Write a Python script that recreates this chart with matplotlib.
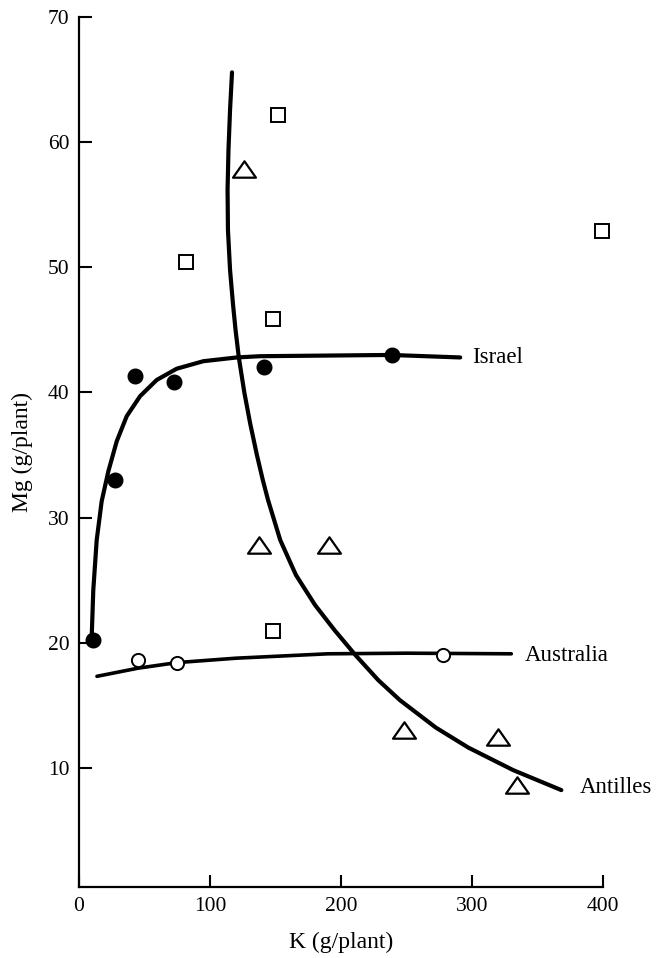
import matplotlib
matplotlib.use("Agg")
import matplotlib.pyplot as plt
from matplotlib.path import Path

# observed points (K, Mg) in g/plant
israel_k = [10.7, 27.5, 42.7, 72.8, 141, 239]
israel_mg = [20.2, 33.0, 41.3, 40.8, 42.0, 43.0]

australia_k = [45, 75, 278]
australia_mg = [18.6, 18.4, 19.0]

antilles_k = [126, 137.5, 191, 248, 320, 334]
antilles_mg = [57.9, 27.8, 27.8, 13.0, 12.45, 8.6]

other_k = [152, 81.5, 148, 148, 399]
other_mg = [62.2, 50.4, 45.9, 20.9, 52.9]

# fitted curves
israel_curve_k = [9.7, 10.9, 13.5, 17.3, 22.4, 28.8, 36.4, 46.6, 59.3, 74.6, 94.9,
                  120.4, 138.2, 238, 291]
israel_curve_mg = [20.5, 24.2, 28.2, 31.3, 33.7, 36.1, 38.1, 39.7, 41.0, 41.9, 42.5,
                   42.8, 42.9, 43.0, 42.8]

australia_curve_k = [13.7, 45, 75, 120, 190, 250, 330]
australia_curve_mg = [17.3, 17.95, 18.4, 18.75, 19.1, 19.15, 19.1]

antilles_curve_k = [116.8, 115.3, 114.1, 113.4, 113.7, 115.3, 117.6, 119.5, 122.0, 126.2,
                    130.7, 135.8, 140.3, 144.3, 153.6, 165.6, 180.2, 195.0, 211.0, 228.4,
                    244.9, 272.4, 297.2, 331.4, 368.2]
antilles_curve_mg = [65.6, 62.6, 59.4, 56.2, 53.0, 49.8, 47.0, 45.0, 42.8, 40.0,
                     37.5, 35.0, 33.0, 31.4, 28.2, 25.4, 23.0, 21.0, 19.0, 17.0,
                     15.4, 13.2, 11.6, 9.8, 8.2]

curve_names = ["Israel", "Australia", "Antilles"]
name_k = [300, 340.5, 382]
name_mg = [42.8, 19.0, 8.4]

plt.rcParams['font.family'] = ['Liberation Serif', 'DejaVu Serif']

fig = plt.figure(figsize=(6.59, 9.58), dpi=100)
ax = fig.add_axes([0.1199, 0.0741, 0.7951, 0.9078])

# curves
line_kw = dict(color='black', solid_capstyle='round', solid_joinstyle='round', zorder=2)
ax.plot(israel_curve_k, israel_curve_mg, lw=3.0, **line_kw)
ax.plot(australia_curve_k, australia_curve_mg, lw=2.6, **line_kw)
ax.plot(antilles_curve_k, antilles_curve_mg, lw=3.0, **line_kw)

# wide, flat triangle marker
tri = Path([(-1.4, -1), (1.4, -1), (0, 1), (-1.4, -1)],
           [Path.MOVETO, Path.LINETO, Path.LINETO, Path.CLOSEPOLY])

ax.plot(israel_k, israel_mg, 'o', ms=10.5, mfc='black', mec='black', zorder=3, clip_on=False)
ax.plot(australia_k, australia_mg, 'o', ms=9.5, mfc='white', mec='black', mew=1.4,
        zorder=3, clip_on=False)
ax.plot(antilles_k, antilles_mg, linestyle='none', marker=tri, ms=16.5, mfc='white',
        mec='black', mew=1.6, zorder=3, clip_on=False)
ax.plot(other_k, other_mg, 's', ms=10.5, mfc='white', mec='black', mew=1.4,
        zorder=3, clip_on=False)

for name, k, mg in zip(curve_names, name_k, name_mg):
    ax.text(k, mg, name, ha='left', va='center', fontsize=16.5, clip_on=False)

ax.set_xlim(0, 400)
ax.set_ylim(0.45, 70)
ax.set_xticks([0, 100, 200, 300, 400])
ax.set_yticks([10, 20, 30, 40, 50, 60, 70])

ax.spines['top'].set_visible(False)
ax.spines['right'].set_visible(False)
ax.spines['left'].set_linewidth(1.6)
ax.spines['bottom'].set_linewidth(1.6)
ax.tick_params(direction='in', length=9, width=1.5, labelsize=15.5, pad=7)

ax.set_xlabel("K (g/plant)", fontsize=17)
ax.set_ylabel("Mg (g/plant)", fontsize=17)
ax.xaxis.set_label_coords(0.5, -0.0517)
ax.yaxis.set_label_coords(-0.088, 0.5)

fig.savefig("out.png", dpi=100)
